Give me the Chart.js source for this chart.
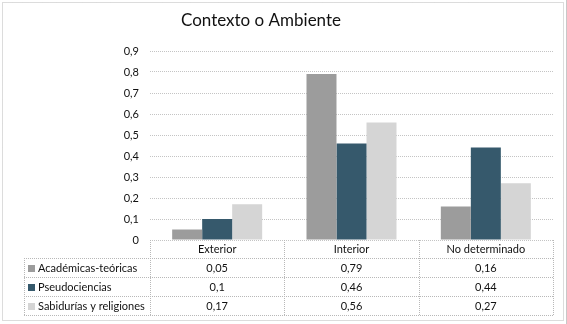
<!DOCTYPE html>
<html>
<head>
<meta charset="utf-8">
<script src="https://cdn.jsdelivr.net/npm/chart.js@4"></script>
<style>
  html, body { margin: 0; padding: 0; background: #fff; }
  #wrap { width: 567px; height: 324px; }
</style>
</head>
<body>
<div id="wrap"><canvas id="chart" width="567" height="324"></canvas></div>
<script>
// ------------ Données ------------
const categories = ["Exterior", "Interior", "No determinado"];
const seriesNames = ["Académicas-teóricas", "Pseudociencias", "Sabidurías y religiones"];
const academicas = [0.05, 0.79, 0.16];
const pseudociencias = [0.1, 0.46, 0.44];
const sabidurias = [0.17, 0.56, 0.27];
const yTicks = [0, 0.1, 0.2, 0.3, 0.4, 0.5, 0.6, 0.7, 0.8, 0.9];

const COLORS = ["#9c9c9c", "#36596c", "#d5d5d5"];
const FONT = "Lato, 'Open Sans', sans-serif";
const LINE = "#b8b8b8";

function fmt(v){ return v === 0 ? "0" : String(v).replace(".", ","); }

// ------------ Tableau de données sous l'axe ------------
const dataTable = {
  id: "dataTable",
  afterDraw(chart) {
    const ctx = chart.ctx, a = chart.chartArea;
    const n = categories.length;
    const step = (a.right - a.left) / n;
    const headerBottom = a.bottom + 18, rowH = 19;
    const tableBottom = headerBottom + rowH * seriesNames.length;
    const legendLeft = 24;
    const series = [academicas, pseudociencias, sabidurias];

    ctx.save();
    ctx.strokeStyle = LINE;
    ctx.lineWidth = 1;
    ctx.setLineDash([1, 1]);
    ctx.beginPath();
    for (let i = 0; i <= n; i++) {
      const x = Math.round(a.left + i * step) + 0.5;
      ctx.moveTo(x, a.bottom);
      ctx.lineTo(x, tableBottom);
    }
    ctx.moveTo(legendLeft + 0.5, headerBottom);
    ctx.lineTo(legendLeft + 0.5, tableBottom);
    for (let r = 0; r <= seriesNames.length; r++) {
      const y = Math.round(headerBottom + r * rowH) + 0.5;
      ctx.moveTo(legendLeft, y);
      ctx.lineTo(a.right, y);
    }
    ctx.stroke();
    ctx.setLineDash([]);

    ctx.fillStyle = "#111";
    ctx.font = "11px " + FONT;
    ctx.textBaseline = "middle";
    ctx.textAlign = "center";
    categories.forEach((c, i) => {
      ctx.fillText(c, a.left + (i + 0.5) * step, a.bottom + 9.5);
    });
    seriesNames.forEach((name, r) => {
      const yc = headerBottom + r * rowH + rowH / 2 + 0.5;
      ctx.fillStyle = COLORS[r];
      ctx.fillRect(legendLeft + 4, Math.round(yc) - 3, 7, 7);
      ctx.fillStyle = "#111";
      ctx.textAlign = "left";
      ctx.fillText(name, legendLeft + 14, yc);
      ctx.textAlign = "center";
      series[r].forEach((v, i) => ctx.fillText(fmt(v), a.left + (i + 0.5) * step, yc));
    });

    // titre
    ctx.font = "17px " + FONT;
    ctx.fillText("Contexto o Ambiente", 261, 21);

    // cadre
    ctx.strokeStyle = LINE;
    ctx.setLineDash([1, 1]);
    ctx.strokeRect(2.5, 2.5, 561, 318);
    ctx.setLineDash([]);
    ctx.strokeStyle = "#c8c8c8";
    ctx.beginPath();
    ctx.moveTo(566.5, 0);
    ctx.lineTo(566.5, 324);
    ctx.stroke();
    ctx.restore();
  }
};

Chart.defaults.font.family = FONT;
Chart.defaults.font.size = 11;
Chart.defaults.color = "#111";

new Chart(document.getElementById("chart").getContext("2d"), {
  type: "bar",
  data: {
    labels: categories,
    datasets: [
      { label: seriesNames[0], data: academicas, backgroundColor: COLORS[0] },
      { label: seriesNames[1], data: pseudociencias, backgroundColor: COLORS[1] },
      { label: seriesNames[2], data: sabidurias, backgroundColor: COLORS[2] }
    ]
  },
  options: {
    responsive: false,
    animation: false,
    layout: { padding: { left: 0, right: 14, top: 51, bottom: 84 } },
    datasets: { bar: { categoryPercentage: 0.67, barPercentage: 1 } },
    plugins: { legend: { display: false }, title: { display: false }, tooltip: { enabled: false } },
    scales: {
      x: { display: false },
      y: {
        min: 0, max: 0.9,
        afterFit: (s) => { s.width = 150; },
        afterBuildTicks: (s) => { s.ticks = yTicks.map(v => ({ value: v })); },
        ticks: { padding: 11, callback: (v) => fmt(Number(v.toFixed(1))) },
        grid: { color: "#c4c4c4", drawTicks: false },
        border: { display: false, dash: [1, 1] }
      }
    }
  },
  plugins: [dataTable]
});
</script>
</body>
</html>
